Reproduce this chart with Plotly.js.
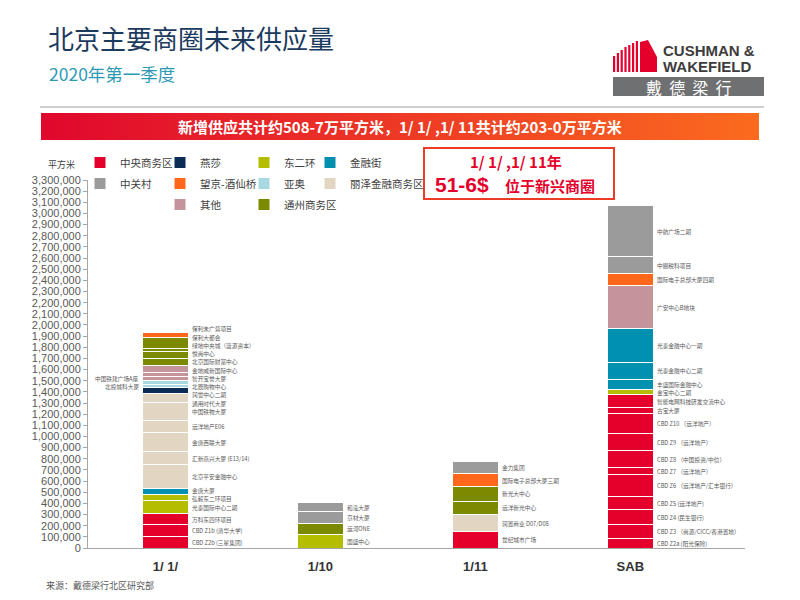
<!DOCTYPE html>
<html><head><meta charset="utf-8">
<script src="https://cdn.plot.ly/plotly-3.0.1.min.js"></script>
<style>body{margin:0;background:#fff}#chart{width:800px;height:600px}</style>
</head><body><div id="chart"></div>
<script>
// ---------- DATA ----------
const categories = ['1/ 1/', '1/10', '1/11', 'SAB'];
const districts = ['中央商务区','燕莎','东二环','金融街','中关村','望京-酒仙桥','亚奥','丽泽金融商务区','亦庄','其他','通州商务区'];
const districtColors = ['#e4002b','#0b2d55','#b5bd00','#0090b0','#9b9b9b','#ff671b','#a8d8e2','#e2d6c2','#5b6683','#c4949a','#7b8a00'];
const stackOrder = ['中央商务区','东二环','金融街','丽泽金融商务区','燕莎','亚奥','其他','通州商务区','望京-酒仙桥','中关村','亦庄'];

const bar1Names = ['CBD Z2b (三星集团)','CBD Z1b (清华大学)','万科东四环项目','光泰国际中心二期','弘毅东二环项目','金唐大厦','北京平安金融中心','汇新燕兴大厦 (E13/14)','金唐西联大厦','远洋地产E06','中国铁物大厦','通用时代大厦','润世中心二期','北投城科大厦','北辰购物中心','中国铁建广场A座','智开宝誉大厦','金地威新国际中心','北京国际财富中心','悦尚中心','绿地中央城（蓝源资本）','保利大都会','保利未广营项目'];
const bar1Values = [100000,108000,99000,121000,54000,49000,220000,112000,175000,108000,157000,81000,54000,27000,40000,31000,40000,65000,56000,67000,27000,94000,51000];
const bar1Districts = ['中央商务区','中央商务区','中央商务区','东二环','东二环','金融街','丽泽金融商务区','丽泽金融商务区','丽泽金融商务区','丽泽金融商务区','丽泽金融商务区','丽泽金融商务区','燕莎','亚奥','亚奥','其他','其他','其他','通州商务区','通州商务区','通州商务区','通州商务区','望京-酒仙桥'];

const bar2Names = ['国盛中心','运河ONE','京材大厦','和泓大厦'];
const bar2Values = [121000,99000,103000,83000];
const bar2Districts = ['东二环','通州商务区','中关村','中关村'];

const bar3Names = ['世纪城市广场','润置商业 D07/D08','远洋新光中心','新光大中心','国际电子总部大厦三期','金力集团'];
const bar3Values = [148000,152000,121000,127000,121000,106000];
const bar3Districts = ['中央商务区','丽泽金融商务区','通州商务区','通州商务区','望京-酒仙桥','中关村'];

const bar4Names = ['CBD Z2a (阳光保险)','CBD Z3 （尚源/CICC/香港置地）','CBD Z4 (民生银行)','CBD Z5 (远洋地产)','CBD Z6 （远洋地产/汇丰银行）','CBD Z7 （远洋地产）','CBD Z8 （中国投资/中信）','CBD Z9 （远洋地产）','CBD Z10 （远洋地产）','古宝大厦','智能电网科技研发交流中心','金宝中心二期','丰盛国际金融中心','光泰金融中心二期','光泰金融中心一期','广安中心B地块','国际电子总部大厦四期','中關税科项目','中航广场二期'];
const bar4Values = [83000,124000,135000,120000,194000,65000,149000,161000,175000,52000,117000,45000,93000,149000,305000,386000,108000,152000,457000];
const bar4Districts = ['中央商务区','中央商务区','中央商务区','中央商务区','中央商务区','中央商务区','中央商务区','中央商务区','中央商务区','中央商务区','中央商务区','东二环','金融街','金融街','金融街','其他','望京-酒仙桥','中关村','中关村'];

const leftLabelNames = ['北投城科大厦','中国铁建广场A座'];

// ---------- LAYOUT HELPERS ----------
const L = 88, R = 745, T = 180, B = 548;
const px = x => (x - L) / (R - L);
const py = y => (B - y) / (B - T);
const CJK = '"Noto Sans CJK SC", "Noto Sans", sans-serif';
const LAT = '"Liberation Sans", Arial, sans-serif';

const barNames = [bar1Names, bar2Names, bar3Names, bar4Names];
const barValues = [bar1Values, bar2Values, bar3Values, bar4Values];
const barDistricts = [bar1Districts, bar2Districts, bar3Districts, bar4Districts];
const legendIds = ['legend','legend2','legend3','legend4'];

const traces = stackOrder.map(d => {
  const x = [], y = [], t = [];
  barNames.forEach((names, i) => names.forEach((n, j) => {
    if (barDistricts[i][j] === d) { x.push(categories[i]); y.push(barValues[i][j]); t.push(n); }
  }));
  const k = districts.indexOf(d);
  return {
    type: 'bar', name: d, x: x, y: y, text: t, textposition: 'none', width: 0.3,
    hovertemplate: '%{text}: %{y:,}<extra>' + d + '</extra>',
    marker: { color: districtColors[k], line: { color: '#ffffff', width: 1 } },
    legend: legendIds[k % 4], legendgroup: d, legendrank: k + 1, showlegend: true
  };
});

// segment labels: at segment middles, crowded ones spread evenly around their mean
const annotations = [];
const gap = 74000;
function spread(mids) {
  let cl = mids.map((m, k) => ({ idx: [k], c: m }));
  let changed = true;
  while (changed) {
    changed = false;
    for (let k = 0; k < cl.length - 1; k++) {
      const a = cl[k], b = cl[k + 1];
      const aTop = a.c + (a.idx.length - 1) * gap / 2, bBot = b.c - (b.idx.length - 1) * gap / 2;
      if (bBot - aTop < gap) {
        const idx = a.idx.concat(b.idx);
        const c = idx.reduce((s, q) => s + mids[q], 0) / idx.length;
        cl.splice(k, 2, { idx: idx, c: c }); changed = true; break;
      }
    }
  }
  const out = [];
  cl.forEach(g => g.idx.forEach((q, r) => { out[q] = g.c + (r - (g.idx.length - 1) / 2) * gap; }));
  return out;
}
barNames.forEach((names, i) => {
  let cum = 0; const items = [];
  stackOrder.forEach(d => names.forEach((n, j) => {
    if (barDistricts[i][j] === d) {
      const v = barValues[i][j];
      items.push({ n: n, mid: cum + v / 2, left: leftLabelNames.includes(n) });
      cum += v;
    }
  }));
  [false, true].forEach(side => {
    const sel = items.filter(it => it.left === side);
    const ys = spread(sel.map(it => it.mid));
    sel.forEach((it, k) => annotations.push({
      xref: 'x', yref: 'y', x: side ? i - 0.165 : i + 0.165, y: ys[k],
      xanchor: side ? 'right' : 'left', yanchor: 'middle', showarrow: false, borderpad: 0,
      text: it.n, font: { family: CJK, size: 5.7, color: '#595959' }
    }));
  });
});

// header / decoration texts
const P = (x, y, text, font, xa, ya) => ({ xref: 'paper', yref: 'paper', x: px(x), y: py(y), text: text, font: font, xanchor: xa || 'left', yanchor: ya || 'middle', showarrow: false, borderpad: 0 });
annotations.push(P(48, 73, '2020年第一季度', { family: CJK, size: 17.5, color: '#2e9ab6' }));
annotations.push(P(400, 127, '<b>新增供应共计约508-7万平方米，1/ 1/ ,1/ 11共计约203-0万平方米</b>', { family: CJK, size: 15, color: '#ffffff' }, 'center'));
annotations.push(P(516, 162, '<b>1/ 1/ ,1/ 11年</b>', { family: CJK, size: 15, color: '#e4002b' }, 'center'));
annotations.push(P(434, 184, '<b>51-6$</b>', { family: LAT, size: 21, color: '#e4002b' }));
annotations.push(P(504, 185, '<b>位于新兴商圈</b>', { family: CJK, size: 15, color: '#e4002b' }));
annotations.push(P(662, 50, '<b>CUSHMAN &amp;</b>', { family: LAT, size: 15, color: '#3c3c3c' }));
annotations.push(P(662, 67, '<b>WAKEFIELD</b>', { family: LAT, size: 15, color: '#3c3c3c' }));
annotations.push(P(689, 87, '戴&nbsp;&nbsp;德&nbsp;&nbsp;梁&nbsp;&nbsp;行', { family: CJK, size: 16, color: '#ffffff' }, 'center'));
annotations.push(P(61, 164, '平方米', { family: CJK, size: 9, color: '#404040' }, 'center'));
annotations.push(P(45, 585, '来源：戴德梁行北区研究部', { family: CJK, size: 9, color: '#595959' }));

// shapes
const rectP = (x0, y0, x1, y1, fill, line) => ({ type: 'rect', xref: 'paper', yref: 'paper', x0: px(x0), x1: px(x1), y0: py(y1), y1: py(y0), fillcolor: fill, line: line || { width: 0 }, layer: 'above' });
const shapes = [];
shapes.push({ type: 'line', xref: 'paper', yref: 'paper', x0: px(40), x1: px(764), y0: py(107), y1: py(107), line: { color: '#cfcfcf', width: 2 } });
shapes.push(rectP(424, 148, 614, 199, 'rgba(0,0,0,0)', { color: '#ee3b25', width: 2 }));
shapes.push(rectP(613, 77, 764, 96, '#6f7072'));
// building icon
const stripeTops = [56, 53, 50, 47, 45, 43, 41];
stripeTops.forEach((t, k) => shapes.push(rectP(613 + k * 3.8, t, 615.2 + k * 3.8, 72, '#e4002b')));
const poly = [[640, 72], [640, 42], [648, 40], [657, 57], [657, 72]];
shapes.push({ type: 'path', xref: 'paper', yref: 'paper', fillcolor: '#e4002b', line: { width: 0 },
  path: 'M' + poly.map(p => px(p[0]) + ',' + py(p[1])).join(' L') + ' Z' });

const gradSvg = "<svg xmlns='http://www.w3.org/2000/svg' width='718' height='27' preserveAspectRatio='none'><defs><linearGradient id='g' x1='0' x2='1' y1='0' y2='0'><stop offset='0' stop-color='#e0072d'/><stop offset='1' stop-color='#fb6b1e'/></linearGradient></defs><rect width='718' height='27' fill='url(#g)'/></svg>";
const images = [{
  source: 'data:image/svg+xml;charset=utf-8,' + encodeURIComponent(gradSvg),
  xref: 'paper', yref: 'paper', x: px(41), y: py(113), sizex: 718 / (R - L), sizey: 27 / (B - T),
  xanchor: 'left', yanchor: 'top', sizing: 'stretch', layer: 'below'
}];

const legendBase = (x) => ({
  xref: 'container', yref: 'container', x: x / 800, y: 1 - 148 / 600, xanchor: 'left', yanchor: 'top',
  bgcolor: 'rgba(0,0,0,0)', font: { family: CJK, size: 10.5, color: '#404040' }, tracegroupgap: 2,
  itemclick: false, itemdoubleclick: false
});

const layout = {
  width: 800, height: 600,
  margin: { l: L, r: 800 - R, t: T, b: 600 - B, autoexpand: false },
  paper_bgcolor: '#ffffff', plot_bgcolor: '#ffffff',
  barmode: 'stack',
  title: { text: '北京主要商圈未来供应量', xref: 'container', yref: 'container', x: 48 / 800, y: 1 - 40 / 600, xanchor: 'left', yanchor: 'middle', font: { family: CJK, size: 26, color: '#1c3a5e' } },
  xaxis: { type: 'category', categoryorder: 'array', categoryarray: categories, range: [-0.5, 3.74], showline: true, linecolor: '#a6a6a6', linewidth: 1, ticks: '', ticklabelstandoff: 6, showgrid: false, zeroline: false, automargin: false, tickfont: { family: LAT, size: 13, color: '#333333', weight: 'bold' } },
  yaxis: { range: [0, 3300000], dtick: 100000, tick0: 0, tickformat: ',d', showline: true, linecolor: '#a6a6a6', linewidth: 1, ticks: 'outside', ticklen: 4, tickcolor: '#a6a6a6', showgrid: false, zeroline: false, automargin: false, tickfont: { family: LAT, size: 11, color: '#595959' } },
  legend: legendBase(80), legend2: legendBase(160), legend3: legendBase(244), legend4: legendBase(310),
  annotations: annotations, shapes: shapes, images: images,
  showlegend: true
};

Plotly.newPlot('chart', traces, layout, { displayModeBar: false, staticPlot: true });
</script></body></html>
